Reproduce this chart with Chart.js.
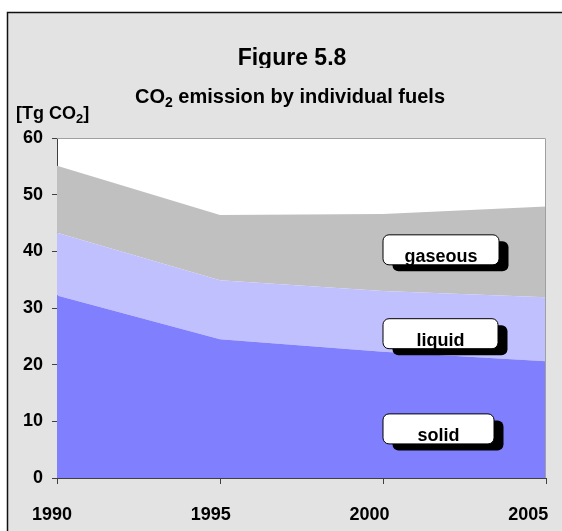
<!DOCTYPE html>
<html>
<head>
<meta charset="utf-8">
<script src="https://cdn.jsdelivr.net/npm/chart.js@4"></script>
<style>
  html, body { margin: 0; padding: 0; background: #fff; }
  canvas { display: block; }
</style>
</head>
<body>
<canvas id="myChart" width="562" height="531"></canvas>
<script>
// chart data
const years = ["1990", "1995", "2000", "2005"];
const solid = [32.2, 24.5, 22.3, 20.6];
const liquid = [11.1, 10.4, 10.7, 11.3];
const gaseous = [11.8, 11.5, 13.6, 16.0];
const fuelNames = ["solid", "liquid", "gaseous"];

const FONT = '"Liberation Sans", Arial, sans-serif';
const ctx = document.getElementById("myChart").getContext("2d");

// draw text with a subscript part, returns width
function drawSub(c, parts, x, y, size, measureOnly) {
  let w = 0;
  for (const p of parts) {
    c.font = `bold ${p.sub ? Math.round(size * 0.7) : size}px ${FONT}`;
    if (!measureOnly) c.fillText(p.t, x + w, y + (p.sub ? size * 0.22 : 0));
    w += c.measureText(p.t).width;
  }
  return w;
}

const framePlugin = {
  id: "frame",
  beforeDraw(chart) {
    const c = chart.ctx;
    const a = chart.chartArea;
    c.save();
    c.fillStyle = "#fff";
    c.fillRect(0, 0, chart.width, chart.height);
    c.fillStyle = "#e3e3e3";
    c.fillRect(7, 12, chart.width, chart.height);
    c.strokeStyle = "#111";
    c.lineWidth = 1.5;
    c.strokeRect(7.5, 12.5, chart.width + 20, chart.height + 20);
    c.fillStyle = "#fff";
    c.fillRect(a.left, a.top, a.right - a.left, a.bottom - a.top);
    c.restore();
  },
  afterDraw(chart) {
    const c = chart.ctx;
    const a = chart.chartArea;
    const xs = chart.scales.x;
    const ys = chart.scales.y;
    c.save();
    // plot border top / right
    c.strokeStyle = "#a0a0a0";
    c.lineWidth = 1;
    c.beginPath();
    c.moveTo(a.left, a.top + 0.5);
    c.lineTo(a.right - 0.5, a.top + 0.5);
    c.lineTo(a.right - 0.5, a.bottom);
    c.stroke();

    c.fillStyle = "#000";
    c.textBaseline = "alphabetic";

    // title (descender clipped like the original)
    c.save();
    c.beginPath();
    c.rect(0, 0, chart.width, 68);
    c.clip();
    c.font = `bold 23px ${FONT}`;
    c.textAlign = "center";
    c.fillText("Figure 5.8", 292, 65);
    c.restore();

    // subtitle
    c.textAlign = "left";
    const sub = [{t: "CO"}, {t: "2", sub: true}, {t: " emission by individual fuels"}];
    const sw = drawSub(c, sub, 0, 0, 20, true);
    drawSub(c, sub, 290 - sw / 2, 103, 20);

    // unit label
    drawSub(c, [{t: "[Tg CO"}, {t: "2", sub: true}, {t: "]"}], 16, 119, 18);

    // x labels
    c.font = `bold 18px ${FONT}`;
    c.textAlign = "center";
    years.forEach((yr, i) => {
      const px = xs.getPixelForValue(i);
      c.fillText(yr, a.left + (px - a.left) * 0.974 - 5, 520);
    });

    // label boxes
    const boxTops = [11.4, 28.2, 43.0];
    const boxW = [111, 115, 116];
    fuelNames.forEach((name, i) => {
      const x = xs.getPixelForValue(2) - 0.5;
      const y = ys.getPixelForValue(boxTops[i]);
      const w = boxW[i], h = 30;
      c.fillStyle = "#000";
      c.beginPath();
      c.roundRect(x + 10, y + 7, w, h, 6);
      c.fill();
      c.fillStyle = "#fff";
      c.strokeStyle = "#000";
      c.lineWidth = 1;
      c.beginPath();
      c.roundRect(x + 0.5, y + 0.5, w, h, 6);
      c.fill();
      c.stroke();
      c.save();
      c.beginPath();
      c.rect(x, y, w + 1, h + 1);
      c.clip();
      c.fillStyle = "#000";
      c.font = `bold 18px ${FONT}`;
      c.textAlign = "center";
      c.fillText(name, x + w / 2 + 0.5, y + h - 2.5);
      c.restore();
    });
    c.restore();
  }
};

new Chart(ctx, {
  type: "line",
  data: {
    labels: years,
    datasets: [
      { label: "solid", data: solid, backgroundColor: "#8080ff", fill: "origin" },
      { label: "liquid", data: liquid, backgroundColor: "#c0c0ff", fill: "-1" },
      { label: "gaseous", data: gaseous, backgroundColor: "#c0c0c0", fill: "-1" },
    ],
  },
  options: {
    responsive: false,
    animation: false,
    devicePixelRatio: 1,
    elements: {
      line: { borderWidth: 0, tension: 0 },
      point: { radius: 0 },
    },
    layout: { padding: { top: 138, right: 16, left: 0, bottom: 0 } },
    plugins: { legend: { display: false }, tooltip: { enabled: false } },
    scales: {
      x: {
        offset: false,
        grid: { drawOnChartArea: false, tickLength: 6, color: "#404040" },
        border: { color: "#404040", width: 1 },
        ticks: { display: false },
        afterFit: (s) => { s.height = 53; },
      },
      y: {
        stacked: true,
        min: 0,
        max: 60,
        grid: { drawOnChartArea: false, tickLength: 5, color: "#404040" },
        border: { color: "#404040", width: 1 },
        ticks: {
          stepSize: 10,
          padding: 9,
          color: "#000",
          font: { family: FONT, size: 18, weight: "bold" },
        },
        afterFit: (s) => { s.width = 57; },
      },
    },
  },
  plugins: [framePlugin],
});
</script>
</body>
</html>
